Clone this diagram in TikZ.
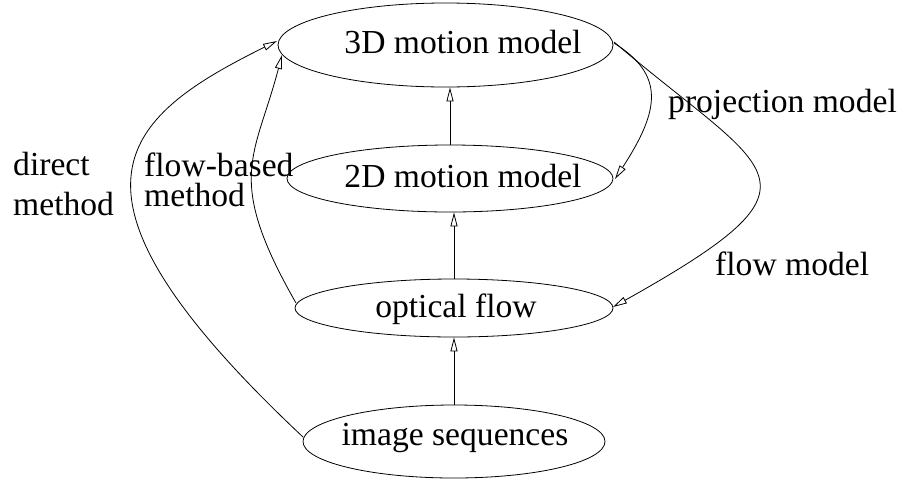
\documentclass[tikz,border=0pt]{standalone}
\usepackage{fontspec}
\setmainfont{Liberation Serif}
\usetikzlibrary{shapes.geometric,arrows.meta}
\begin{document}
\begin{tikzpicture}[x=1pt,y=-1pt,
  ell/.style={draw,ellipse,inner sep=0pt,line width=0.8pt},
  txt/.style={inner sep=0pt,anchor=base,font=\fontsize{33.6}{38}\selectfont},
  lbl/.style={inner sep=0pt,anchor=base west,font=\fontsize{33.6}{38}\selectfont},
  con/.style={line width=0.8pt,-{Triangle[open,length=14pt,width=7pt]}}]
\useasboundingbox (0,0) rectangle (899,480);
\node[ell,minimum width=335pt,minimum height=84pt] (m3) at (445.5,45) {};
\node[ell,minimum width=326pt,minimum height=67pt] (m2) at (450,178.5) {};
\node[ell,minimum width=318pt,minimum height=58pt] (of) at (454,308) {};
\node[ell,minimum width=302pt,minimum height=73pt] (is) at (454,441.5) {};
\node[txt] (t3) at (463,53) {3D motion model};
\node[txt] (t2) at (463,187) {2D motion model};
\node[txt] (t1) at (456,317) {optical flow};
\node[txt] (t0) at (455,445) {image sequences};
\draw[con] (is.north) -- (of.south);
\draw[con] (of.north) -- (of.north |- m2.south);
\draw[con] (m2.north) -- (m2.north |- m3.south);
\coordinate (dS) at (303,437);
\coordinate (dE) at (277,41);
\draw[con] (dS) .. controls (41,191) and (119,119) .. (dE);
\coordinate (fS) at (296,303);
\coordinate (fE) at (282,55);
\draw[con] (fS) .. controls (224,177) and (255,158) .. (fE);
\coordinate (pS) at (614,43);
\coordinate (pE) at (615,179);
\draw[con] (pS) .. controls (665,75) and (660,110) .. (pE);
\coordinate (qS) at (614,42);
\coordinate (qE) at (613,307);
\draw[con] (qS) .. controls (770,175) and (840,180) .. (qE);
\node[lbl] (lp) at (668,112) {projection model};
\node[lbl] (lf) at (715,275) {flow model};
\node[lbl,align=left,font=\fontsize{33.6}{40}\selectfont] (ld) at (13,215) {direct\\method};
\node[lbl,align=left,font=\fontsize{33.6}{30}\selectfont] (lb) at (144,206) {flow-based\\method};
\end{tikzpicture}
\end{document}
